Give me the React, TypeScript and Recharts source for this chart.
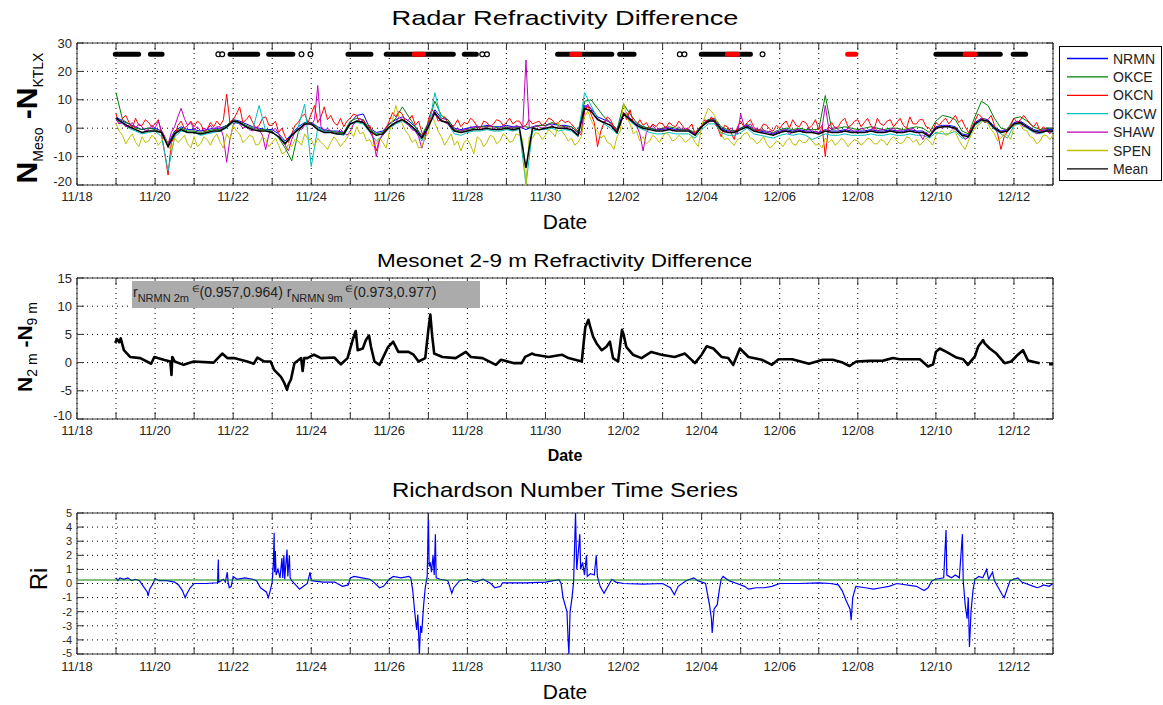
import React from 'react';
import {
  LineChart,
  Line,
  XAxis,
  YAxis,
  CartesianGrid,
  ReferenceArea,
  ReferenceLine,
  Legend,
} from 'recharts';

// ---------------------------------------------------------------------------
// Axis definitions (days since 11/18 00:00)
// ---------------------------------------------------------------------------
const dayTicks = [0, 1, 2, 3, 4, 5, 6, 7, 8, 9, 10, 11, 12, 13, 14, 15, 16, 17, 18, 19, 20, 21, 22, 23, 24, 25];
const dayLabels = [
  '11/18', '', '11/20', '', '11/22', '', '11/24', '', '11/26', '', '11/28', '', '11/30', '',
  '12/02', '', '12/04', '', '12/06', '', '12/08', '', '12/10', '', '12/12', '',
];
const refrTicks = [-20, -10, 0, 10, 20, 30];
const gradTicks = [-10, -5, 0, 5, 10, 15];
const riTicks = [-5, -4, -3, -2, -1, 0, 1, 2, 3, 4, 5];

// ---------------------------------------------------------------------------
// Radar refractivity difference, N_meso - N_KTLX, from 11/19 00:00.
// 4-hourly stations: one row per day (00, 04, 08, 12, 16, 20 h)
// ---------------------------------------------------------------------------
const coarseDays = Array.from({ length: 145 }, (_, i) => 1 + i / 6);
// 2-hourly stations: one row per day (00, 02, ... 22 h)
const fineDays = Array.from({ length: 289 }, (_, i) => 1 + i / 12);

const nrmn = [
  4.0, 2.5, 1.5, 0.5, -0.5, 0.0,
  0.0, -1.0, -5.5, -1.0, 0.5, -0.5,
  -0.5, -1.0, -0.5, 0.0, 0.0, 1.0,
  3.0, 2.5, 1.5, 0.5, 0.0, -0.5,
  -0.5, -2.0, -4.5, -2.0, 0.5, 2.0,
  2.0, 0.5, -0.5, -1.0, -1.0, -1.5,
  2.0, 4.5, 5.0, 0.0, -1.5, -1.0,
  1.5, 3.0, 4.0, 2.5, 0.5, -3.0,
  1.5, 6.5, 3.5, 3.0, 0.0, -0.5,
  0.0, 0.5, 0.5, 1.0, 0.5, 0.5,
  1.0, 0.5, 0.5, -0.5, 0.5, 1.0,
  1.0, 1.5, 1.0, 1.0, 0.5, -1.5,
  8.0, 7.0, 4.0, 3.0, 2.0, -0.5,
  5.5, 3.5, 1.5, 0.5, 0.0, -0.5,
  -0.5, 0.0, -0.5, -0.5, -0.5, -2.0,
  1.0, 3.0, 3.0, 0.0, -1.0, -1.0,
  0.0, 1.0, -0.5, -1.0, -1.5, -2.0,
  -1.0, -0.5, -1.0, -0.5, -1.0, -1.0,
  -1.5, -0.5, -1.0, -1.0, -0.5, -1.0,
  -1.0, -1.0, -0.5, -1.0, -1.0, -0.5,
  -1.0, -1.0, -0.5, -1.0, -1.0, -2.5,
  0.5, 1.0, 1.0, 0.5, -2.0, -2.5,
  2.0, 3.5, 3.0, 0.5, -1.0, -0.5,
  2.0, 2.5, 1.0, -0.5, -1.0, -0.5,
  -0.5,
];

const okce = [
  12.5, 3.0, 1.5, 0.0, -0.5, 0.0,
  -0.5, -1.5, -6.0, -1.5, 0.0, -1.0,
  -1.0, -1.5, -1.0, -0.5, -0.5, 1.0,
  3.0, 2.0, 1.0, 0.0, -0.5, -0.5,
  -1.0, -3.5, -7.0, -11.5, -1.5, 2.0,
  2.0, 0.0, -1.0, -1.0, -1.5, -1.5,
  2.5, 3.5, 3.0, -0.5, -2.0, -1.5,
  1.5, 3.5, 7.5, 4.0, 0.5, -2.5,
  2.0, 9.5, 4.5, 3.0, -0.5, -1.0,
  -0.5, 0.0, 0.5, 0.5, 0.5, 0.0,
  0.5, 0.0, 0.5, 0.5, 0.0, 1.0,
  1.0, 2.0, 1.0, 0.5, 0.5, -1.5,
  9.5, 10.0, 7.0, 4.0, 2.0, -0.5,
  8.5, 5.0, 2.0, 0.5, 0.0, -0.5,
  0.0, 0.5, 0.0, -0.5, -0.5, -1.5,
  1.0, 3.0, 3.5, 0.5, -0.5, -1.0,
  0.0, 1.5, -0.5, -0.5, -1.0, -1.5,
  -0.5, 0.0, -0.5, 0.0, -0.5, -0.5,
  -0.5, 11.5, -0.5, 0.0, 0.5, 0.0,
  -0.5, 0.0, 0.5, 0.0, -0.5, 0.0,
  0.0, -0.5, 0.0, 0.5, 0.0, -1.5,
  2.5, 4.5, 4.0, 3.0, -1.0, -2.0,
  4.0, 9.5, 8.0, 3.5, 0.0, -0.5,
  3.5, 4.0, 2.5, 0.5, -0.5, 0.0,
  0.0,
];

const okcn = [
  5.0, 1.5, 3.5, 4.5, 2.0, 0.0, 3.5, 1.0, 1.0, 3.0, 2.0, 0.5,
  1.5, 3.0, -2.0, -9.0, -16.5, -5.0, -3.0, 1.0, 2.5, 0.0, 1.0, 2.5,
  0.5, 2.5, 1.5, -1.0, -0.5, 2.0, 0.5, 2.5, 1.0, 3.0, 12.0, 2.0,
  3.0, 5.0, 7.5, 2.0, 3.0, 4.5, 2.0, 0.0, 1.0, 3.5, 4.0, 1.0,
  1.0, 2.5, -1.5, 0.0, -3.0, -5.0, -2.0, 1.0, 2.0, 4.0, 5.0, 2.0,
  5.0, 8.0, 2.0, 4.0, 7.5, 3.0, 4.5, 2.0, 1.0, 3.5, 0.5, 2.5,
  3.5, 5.0, 4.5, 2.0, 3.0, 0.5, 1.0, -3.0, -8.0, -4.0, -2.0, 0.0,
  2.5, 5.5, 4.0, 6.0, 5.0, 2.0, 3.0, 4.5, 1.0, 2.5, -1.5, -4.0,
  3.0, 6.5, 5.5, 2.5, 3.0, 4.0, 2.0, 0.5, 1.0, 3.0, 0.5, 2.0,
  1.5, 3.5, 2.5, 0.5, 0.0, 2.5, 2.0, 0.5, 1.5, 3.0, 2.5, 1.0,
  2.0, 3.5, 1.5, 2.5, 2.5, 0.5, 1.0, 3.0, 1.5, 2.0, 2.5, 1.0,
  2.0, 3.5, 3.0, 1.5, 2.0, 3.0, 2.0, 2.5, 1.5, 0.0, -1.0, -2.5,
  6.0, 8.0, 5.0, 2.0, -6.5, -1.0, 2.0, 4.0, 3.0, 0.5, -1.0, 1.0,
  5.5, 3.0, 6.5, 2.0, 1.0, 3.0, 1.0, 2.0, 0.0, 1.5, 0.5, 2.0,
  1.5, 0.0, 2.0, 1.0, 0.5, 2.5, 1.0, -0.5, 0.0, 1.5, -2.0, -0.5,
  1.0, 3.0, 2.0, 4.0, 2.0, 0.0, -3.0, 1.0, 0.5, -1.5, -4.0, 0.5,
  2.5, 0.5, 2.0, 3.0, 0.5, -1.0, -0.5, 1.5, 1.0, -0.5, -1.0, 1.0,
  0.0, 1.5, 2.5, 0.0, 3.0, 1.0, 0.5, 2.5, 2.0, 0.0, 1.0, 3.0,
  -0.5, 1.0, -10.0, 0.5, 2.0, 0.0, 0.5, 2.5, 3.5, 0.5, 1.0, 2.5,
  3.0, 0.5, 2.0, 3.5, 1.0, -0.5, 3.5, 1.5, 1.0, 2.5, 3.0, 0.5,
  2.0, 3.5, 1.0, 0.0, 4.0, 1.5, 1.5, 3.0, 3.0, 0.5, 0.0, -1.5,
  2.0, 1.0, 2.5, 3.5, 1.5, 3.0, 4.5, 2.0, 3.0, 0.5, -1.5, 0.0,
  2.5, 5.0, 4.0, 2.0, 3.0, 4.5, 1.0, -2.0, -7.5, -3.0, -1.0, 1.0,
  3.5, 2.0, 3.0, 4.5, 3.0, 1.5, 0.5, 2.0, -1.0, 0.5, -0.5, -2.0,
  -0.5,
];

const okcw = [
  3.0, 1.5, 0.0, -1.0, -2.0, -1.5,
  -1.0, -3.0, -15.0, -3.0, -1.0, -1.5,
  -1.5, -2.5, -2.0, -1.5, -1.0, 0.0,
  2.0, 1.5, 0.5, -0.5, 8.0, -1.0,
  -1.5, -3.0, -5.0, -3.0, 0.5, 8.5,
  -13.5, 0.0, -1.0, -1.5, -2.0, -2.5,
  1.5, 2.0, 1.5, -1.5, -4.5, -2.5,
  0.0, 1.5, 2.5, 1.0, -1.0, -4.5,
  0.0, 12.5, 3.0, 1.5, -2.0, -2.5,
  -1.5, -1.0, -1.0, -0.5, -1.0, -1.0,
  -0.5, -1.0, -0.5, -20.0, -1.0, -0.5,
  -0.5, 0.0, -1.0, -0.5, -1.0, -3.0,
  12.5, 8.0, 3.5, 1.5, 0.0, -2.0,
  5.0, 2.5, 0.5, -0.5, -1.5, -2.0,
  -2.0, -1.5, -2.0, -2.0, -2.0, -3.5,
  -0.5, 1.5, 1.5, -1.5, -2.5, -2.5,
  -1.5, 0.0, -2.0, -2.5, -3.0, -3.5,
  -2.5, -2.0, -2.5, -2.0, -2.5, -4.0,
  -3.0, -2.0, -2.5, -2.5, -2.0, -2.5,
  -2.5, -2.5, -2.0, -2.5, -2.5, -2.0,
  -2.5, -2.5, -2.0, -2.5, -2.5, -3.5,
  -1.5, -2.0, -2.0, -1.0, -3.5, -3.5,
  1.0, 2.5, 2.0, -0.5, -2.0, -3.5,
  1.0, 1.5, 0.0, -1.5, -2.0, -1.0,
  -1.5,
];

const shaw = [
  3.0, 1.5, 2.0, 0.5, 1.0, 2.0, 0.0, 1.5, 0.5, -1.0, -0.5, 1.0,
  0.0, 2.5, -1.0, -3.0, -5.5, -1.5, 0.5, 4.0, 7.0, 3.5, 1.0, 2.0,
  -0.5, 0.5, -1.0, 0.0, -0.5, 1.0, -0.5, 0.5, 0.5, -3.0, -12.0, -4.0,
  1.0, 2.5, 1.5, 0.0, 0.5, -0.5, -1.0, 0.5, -0.5, -2.5, -7.5, -2.0,
  -1.0, 0.0, -2.0, -4.5, -6.0, -8.0, -4.0, -1.5, 0.0, -0.5, 1.0, 2.0,
  1.0, 3.0, 15.0, 0.5, -1.0, 0.0, -1.0, -2.0, -1.5, -0.5, -1.5, -2.5,
  -1.0, 1.5, 2.5, 3.5, 2.0, 0.5, -1.0, -3.5, -10.0, -4.0, -2.5, -1.0,
  0.5, 1.5, 2.0, 4.0, 3.0, 2.0, 1.0, -0.5, -1.0, -3.0, -7.0, -3.0,
  1.0, 4.5, 5.0, 3.5, 3.0, 2.0, 1.5, 0.0, -1.0, 0.0, -1.0, -0.5,
  -0.5, 0.5, 0.0, 1.0, -0.5, 0.0, 0.5, 1.0, 0.0, -0.5, 0.0, 1.0,
  0.0, 0.5, 0.0, 1.0, 0.5, 0.0, 24.0, 0.5, 0.0, 1.0, 0.5, 0.0,
  0.5, 1.5, 1.0, 0.0, 0.5, 1.0, 0.0, 0.5, -0.5, -1.0, -2.5, -1.0,
  7.0, 8.5, 6.5, 4.5, 3.5, 2.5, 2.0, 3.0, 1.5, 0.0, -1.0, 1.5,
  4.5, 5.5, 3.0, 2.0, 1.0, -2.0, -8.0, -1.5, 0.0, 1.0, -0.5, 0.0,
  -0.5, 0.5, 0.0, -1.0, -0.5, 0.5, -0.5, 0.0, -0.5, -1.5, -2.0, -0.5,
  0.5, 1.5, 2.0, 3.0, 2.0, 0.5, -0.5, -1.5, -1.0, 0.0, -1.0, -2.0,
  5.0, 1.0, 0.5, 1.5, -0.5, 0.0, -1.0, -0.5, -1.5, -1.0, -2.0, -1.0,
  -1.5, -0.5, -1.0, -2.0, -1.5, -0.5, -0.5, -1.5, -1.0, 0.0, -1.5, -1.0,
  -1.5, 0.0, 8.0, 0.5, -0.5, 0.5, -0.5, -1.5, -1.0, 0.0, -0.5, -1.5,
  -1.0, 0.0, -0.5, -1.5, -0.5, 0.5, -1.0, -0.5, -0.5, -1.5, -0.5, 0.0,
  -1.0, -0.5, -1.5, -0.5, -0.5, 0.0, -1.0, -2.0, -4.0, -1.5, -2.5, -1.0,
  -0.5, 0.5, 0.0, 1.0, 0.5, 0.0, -0.5, -1.5, -2.5, -4.0, -3.0, -1.0,
  1.5, 2.5, 3.5, 2.0, 2.5, 1.0, 0.0, -1.0, -1.5, -0.5, -1.0, 0.5,
  1.5, 2.5, 1.5, 0.5, 0.5, -0.5, -1.0, -2.0, -1.5, -0.5, -1.0, -1.5,
  -1.0,
];

const spen = [
  1.5, -1.0, -2.5, -5.5, -3.5, -2.0, -5.0, -6.5, -3.0, -5.0, -4.5, -2.5,
  -3.5, -6.0, -4.5, -3.0, -6.0, -8.0, -3.5, -5.0, -4.0, -2.5, -5.5, -7.0,
  -3.0, -6.5, -5.5, -3.0, -4.0, -6.0, -3.5, -2.0, -5.0, -7.0, -2.0, -4.0,
  1.0, -1.0, -2.0, -5.0, -4.0, -2.5, -3.0, -6.0, -5.5, -3.0, -4.0, -6.5,
  -5.0, -3.5, -6.0, -9.0, -8.5, -5.5, -6.5, -4.0, -4.5, -6.0, -2.0, -4.0,
  -4.0, -6.5, -3.5, -5.0, -6.0, -7.5, -5.0, -3.0, -4.5, -6.5, -5.0, -3.5,
  -1.0, -3.0, 0.5, -2.0, -1.5, -4.5, -4.0, -6.5, -5.5, -3.5, -5.0, -7.0,
  -1.5, 3.0, 8.0, 4.0, 1.5, -1.0, -2.5, -5.0, -4.0, -7.0, -6.5, -3.0,
  -2.0, 4.5, 2.0, -1.0, -3.0, -6.0, -4.0, -2.0, -6.0, -4.5, -8.0, -5.0,
  -4.0, -6.0, -9.0, -3.0, -4.0, -6.5, -5.0, -2.5, -3.0, -5.5, -4.5, -2.0,
  -3.0, -5.0, -4.5, -2.0, -2.5, -4.0, -20.0, -3.0, -3.5, -1.5, -2.0, -4.0,
  -2.5, -0.5, -1.5, -3.0, 2.0, -1.0, -2.5, -4.5, -3.5, -6.0, -5.0, -3.0,
  4.0, 6.0, 3.0, 0.5, -1.0, -3.5, -2.5, -5.0, -5.5, -7.5, -3.0, -1.0,
  9.0, 4.0, 1.5, -2.0, -1.0, -4.5, -3.0, -5.5, -4.5, -2.5, -3.5, -5.0,
  -3.0, -1.5, -2.5, -4.5, -4.0, -2.5, -3.5, -5.0, -4.0, -3.0, -5.0, -6.5,
  1.0, 4.0, 7.0, 6.0, 4.5, 1.0, -2.0, -4.0, -3.5, -5.0, -6.0, -4.0,
  -3.5, -2.0, -1.5, -3.5, -4.0, -5.5, -4.5, -3.0, -5.5, -7.0, -6.0, -4.5,
  -5.0, -6.5, -4.5, -3.5, -5.5, -6.0, -4.0, -5.0, -5.0, -3.5, -4.5, -6.0,
  -5.5, -7.0, -3.5, -5.0, -4.0, -6.0, -5.0, -3.5, -4.5, -6.5, -5.0, -4.0,
  -4.5, -6.0, -5.0, -3.5, -4.0, -5.5, -5.5, -4.0, -4.5, -6.0, -4.0, -3.0,
  -4.5, -5.5, -5.0, -3.0, -3.5, -5.0, -4.0, -6.0, -5.0, -3.5, -4.5, -6.0,
  -2.5, -1.5, -1.0, -2.5, -2.0, -0.5, -1.5, -4.0, -6.0, -7.5, -4.5, -2.0,
  0.0, 1.0, 2.0, 3.0, 1.5, -0.5, -2.0, -4.5, -3.5, -2.0, -2.5, -4.0,
  0.5, 2.0, 1.0, -0.5, -1.0, -3.0, -3.5, -5.5, -4.5, -2.5, -2.5, -4.0,
  -2.5,
];

const stationMean = [
  3.5, 2.0, 0.5, -0.5, -1.5, -1.0,
  -1.0, -1.5, -6.5, -2.0, -0.5, -1.5,
  -1.5, -2.0, -1.5, -1.0, -1.0, 0.5,
  2.5, 2.0, 0.5, -0.5, -1.0, -1.0,
  -1.5, -3.0, -5.5, -2.5, -0.5, 1.5,
  1.5, -0.5, -1.5, -1.5, -2.0, -2.0,
  1.5, 2.5, 2.0, -1.0, -2.5, -2.0,
  0.5, 2.0, 3.0, 1.5, -0.5, -3.5,
  0.5, 5.5, 2.5, 2.0, -1.0, -1.5,
  -1.0, -0.5, -0.5, 0.0, -0.5, -0.5,
  0.0, -0.5, 0.0, -14.0, 0.0, -0.5,
  0.0, 0.5, 0.0, 0.0, -0.5, -2.5,
  7.0, 6.0, 3.0, 2.0, 1.0, -1.5,
  5.0, 3.0, 1.0, 0.0, -0.5, -1.0,
  -1.0, -0.5, -1.0, -1.0, -1.0, -2.5,
  0.5, 2.5, 2.5, -0.5, -1.5, -1.5,
  -0.5, 0.5, -1.0, -1.5, -2.0, -2.5,
  -1.5, -1.0, -1.5, -1.0, -1.5, -1.5,
  -2.0, -1.0, -1.5, -1.5, -1.0, -1.5,
  -1.5, -1.5, -1.0, -1.5, -1.5, -1.0,
  -1.5, -1.5, -1.0, -1.5, -1.5, -3.0,
  0.0, 0.5, 0.5, 0.0, -2.5, -3.0,
  1.5, 3.0, 2.5, 0.0, -1.5, -1.0,
  1.5, 2.0, 0.5, -1.0, -1.5, -1.0,
  -1.0,
];

// Event flags plotted along the top of the refractivity panel
const flagLevel = 26;
const eventStarts = [0.98, 1.88, 3.92, 4.91, 6.94, 7.92, 9.92, 12.31, 13.9, 15.99, 22.0, 23.98];
const eventEnds = [1.58, 2.18, 4.63, 5.53, 7.53, 9.64, 10.23, 13.7, 14.27, 17.25, 23.65, 24.3];
const alertStarts = [8.64, 12.67, 16.66, 19.74, 22.75];
const alertEnds = [8.87, 12.88, 16.92, 19.95, 23.0];
const isolatedEvents = [3.62, 3.72, 5.75, 5.98, 10.38, 10.5, 15.44, 15.56, 17.56];

// ---------------------------------------------------------------------------
// Mesonet 2 m - 9 m refractivity difference
// ---------------------------------------------------------------------------
const gradDays = [
  0.98, 1.02, 1.08, 1.12, 1.2, 1.36, 1.62, 1.79, 1.9, 1.98, 2.22, 2.39, 2.42, 2.44, 2.5, 2.73, 2.99,
  3.5, 3.72, 3.85, 4.02, 4.36, 4.53, 4.62, 4.79, 4.96, 5.05, 5.22, 5.31, 5.38, 5.42, 5.48, 5.57,
  5.74, 5.78, 5.82, 5.9, 6.07, 6.25, 6.59, 6.76, 6.93, 7.06, 7.14, 7.19, 7.32, 7.4, 7.48, 7.53,
  7.62, 7.75, 7.97, 8.1, 8.23, 8.49, 8.62, 8.75, 8.92, 9.0, 9.05, 9.1, 9.15, 9.36, 9.7, 9.96,
  10.09, 10.39, 10.73, 10.86, 11.2, 11.39, 11.48, 11.65, 11.73, 12.08, 12.42, 12.59, 12.93, 13.02,
  13.1, 13.14, 13.22, 13.31, 13.44, 13.56, 13.65, 13.73, 13.86, 13.96, 14.0, 14.07, 14.24, 14.46,
  14.71, 14.97, 15.31, 15.57, 15.83, 16.0, 16.13, 16.3, 16.51, 16.68, 16.81, 16.98, 17.2, 17.54,
  17.8, 17.97, 18.32, 18.75, 19.1, 19.36, 19.61, 19.79, 19.96, 20.3, 20.65, 20.9, 21.07, 21.59,
  21.8, 21.93, 22.0, 22.1, 22.27, 22.53, 22.7, 22.82, 23.0, 23.08, 23.21, 23.25, 23.38, 23.55,
  23.76, 23.93, 24.1, 24.23, 24.36, 24.66, 24.7, 24.9, 25.0,
];
const gradValues = [
  3.5, 4.2, 3.6, 4.3, 2.2, 1.0, 0.8, 0.2, -0.2, 1.0, 0.5, 0.2, -2.2, 1.0, 0.2, -0.4, 0.2,
  0.0, 1.6, 0.8, 0.8, 0.2, -0.2, 0.9, 0.2, 0.2, -1.3, -2.5, -3.6, -4.8, -3.8, -3.0, -0.1,
  0.8, -1.5, 0.8, 0.8, 1.4, 0.8, 0.9, -0.3, 0.8, 4.0, 5.6, 2.2, 2.5, 4.0, 4.8, 2.8,
  0.2, -0.4, 2.8, 3.7, 1.9, 1.9, 1.4, 0.2, 0.8, 5.8, 8.5, 4.6, 1.6, 1.0, 0.8, 1.9,
  1.0, 0.8, -0.4, 0.5, -0.1, -0.1, 1.0, 1.6, 1.4, 1.0, 1.4, 0.8, 0.2, 6.3,
  7.6, 6.5, 4.6, 3.4, 2.2, 2.8, 3.7, 0.8, 0.2, 5.8, 5.0, 2.8, 1.4, 0.8,
  1.9, 1.4, 1.0, 1.6, -0.1, 1.4, 2.9, 2.5, 1.0, 0.8, -0.4, 2.5, 1.0, 0.5,
  -0.4, 0.6, 0.6, -0.2, 0.5, 0.5, 0.0, -0.6, 0.2, 0.3, 0.35, 0.8, 0.6, 0.6,
  -0.7, -0.3, 1.9, 2.5, 1.9, 0.9, 0.6, -0.4, 1.1, 2.8, 4.0, 3.4, 2.5, 1.6,
  -0.1, 0.2, 1.4, 2.2, 0.35, -0.1, null, -0.3, -0.3,
];

// ---------------------------------------------------------------------------
// Richardson number
// ---------------------------------------------------------------------------
const riDays = [
  1.0, 1.05, 1.1, 1.2, 1.3, 1.4, 1.5, 1.6, 1.7, 1.8, 1.82, 1.86, 1.95, 2.0, 2.1, 2.3, 2.5, 2.6, 2.7,
  2.77, 2.8, 2.9, 3.0, 3.3, 3.6, 3.62, 3.63, 3.75, 3.8, 3.85, 3.87, 3.9, 3.95, 4.0, 4.1, 4.3, 4.5,
  4.6, 4.7, 4.85, 4.9, 4.95, 5.0, 5.03, 5.05, 5.06, 5.08, 5.1, 5.15, 5.2, 5.25, 5.27, 5.3, 5.32,
  5.38, 5.4, 5.44, 5.46, 5.5, 5.6, 5.7, 5.8, 5.9, 5.97, 6.0, 6.3, 6.6, 6.8, 6.95, 7.0, 7.1, 7.3,
  7.5, 7.6, 7.75, 7.85, 8.0, 8.1, 8.3, 8.5, 8.55, 8.6, 8.65, 8.7, 8.73, 8.77, 8.8, 8.83, 8.88,
  8.92, 8.97, 9.0, 9.02, 9.05, 9.08, 9.12, 9.15, 9.18, 9.2, 9.3, 9.5, 9.6, 9.65, 9.8, 10.0, 10.2,
  10.4, 10.6, 10.7, 10.85, 10.9, 11.5, 12.0, 12.2, 12.35, 12.4, 12.45, 12.5, 12.55, 12.58, 12.6,
  12.63, 12.68, 12.72, 12.77, 12.8, 12.85, 12.88, 12.9, 12.95, 13.0, 13.05, 13.07, 13.15, 13.25,
  13.3, 13.33, 13.4, 13.5, 13.6, 13.7, 13.8, 14.0, 14.5, 15.0, 15.2, 15.3, 15.4, 15.6, 15.8, 15.9,
  16.1, 16.2, 16.25, 16.27, 16.32, 16.4, 16.45, 16.5, 16.55, 16.7, 16.9, 17.1, 17.2, 17.4, 17.6,
  17.8, 18.0, 18.5, 19.0, 19.3, 19.5, 19.6, 19.7, 19.8, 19.83, 19.87, 19.95, 20.2, 20.4, 20.6,
  20.8, 21.0, 21.5, 21.7, 21.8, 21.9, 22.0, 22.2, 22.26, 22.28, 22.4, 22.5, 22.6, 22.68, 22.7,
  22.75, 22.8, 22.83, 22.86, 22.9, 22.95, 23.0, 23.1, 23.2, 23.3, 23.35, 23.45, 23.5, 23.6, 23.7,
  23.75, 23.8, 23.9, 24.0, 24.1, 24.2, 24.3, 24.5, 24.6, 24.7, 24.75, 24.9, 25.0,
];
const riValues = [
  0.4, 0.2, 0.4, 0.3, 0.4, 0.2, 0.3, 0.2, -0.2, -0.6, -0.9, -0.4, 0.0, 0.35, 0.2, 0.2, 0.1, -0.1, -0.5,
  -1.0, -0.8, -0.3, 0.0, 0.0, 0.05, 1.7, 0.1, 0.3, 0.1, 0.8, 0.1, -0.3, -0.2, 0.5, 0.3, 0.4, 0.3,
  0.2, -0.3, -0.6, -1.0, -0.5, 0.1, 1.5, 3.6, 0.8, 2.3, 0.6, 1.0, 0.4, 1.8, 0.4, 2.0, 0.3,
  2.4, 0.5, 2.0, 0.4, 0.2, -0.1, -0.4, -0.2, 0.0, 0.8, 0.2, 0.1, 0.1, -0.2, -0.1, 0.4, 0.5, 0.4,
  0.3, 0.1, -0.3, -0.2, 0.3, 0.5, 0.4, 0.5, 0.4, -0.5, -2.0, -3.3, -2.2, -5.0, -3.0, -3.5, -1.5,
  -0.3, 0.5, 5.0, 1.2, 1.5, 0.8, 2.0, 0.6, 3.5, 0.4, 0.3, 0.2, -0.7, -0.3, 0.2, 0.3, 0.1,
  0.3, 0.0, -0.3, -0.2, 0.05, 0.05, 0.1, 0.2, 0.25, 0.0, -1.0, -1.5, -2.0, -4.0, -5.0,
  -2.0, -1.0, 0.1, 5.0, 1.0, 2.5, 3.5, 1.0, 1.5, 0.6, 2.0, 0.5, 0.7, 0.6,
  2.0, 0.5, -0.2, -0.7, -0.2, 0.3, 0.1, 0.0, -0.05, 0.0, -0.3, -0.8, -0.2, 0.2, 0.4, 0.2,
  0.0, -1.5, -2.5, -3.5, -1.8, -1.5, -0.5, 0.3, 0.5, 0.2, 0.0, -0.2, -0.4, -0.3, -0.3,
  -0.2, 0.0, 0.0, 0.05, 0.0, -0.1, -0.5, -1.2, -1.8, -2.6, -1.0, -0.2, -0.3, -0.4, -0.3,
  -0.2, 0.0, -0.2, -0.5, -0.3, 0.2, 0.3, 0.4, 3.8, 0.6, 0.4, 0.6, 0.4, 3.5, 0.2,
  -1.5, -2.5, -1.0, -4.5, -2.0, -0.5, 0.3, 0.5, 0.4, 1.0, 0.3, 0.8, 0.2, -0.3, -0.8,
  -1.0, -0.6, 0.2, 0.3, 0.4, 0.1, 0.0, -0.2, -0.3, -0.2, -0.1, -0.2, 0.0,
];
const riCritical = 0.25;

// ---------------------------------------------------------------------------
// Tables for the charts
// ---------------------------------------------------------------------------
const coarseRows = coarseDays.map((t, i) => ({
  t,
  NRMN: nrmn[i],
  OKCE: okce[i],
  OKCW: okcw[i],
  Mean: stationMean[i],
}));
const fineRows = fineDays.map((t, i) => ({
  t,
  OKCN: okcn[i],
  SHAW: shaw[i],
  SPEN: spen[i],
}));

const intervalRows = (starts: number[], ends: number[]) =>
  starts.flatMap((s, i) => [
    { t: s, v: flagLevel },
    { t: ends[i], v: flagLevel },
    { t: ends[i] + 0.001, v: null },
  ]);
const eventRows = intervalRows(eventStarts, eventEnds);
const alertRows = intervalRows(alertStarts, alertEnds);
const isolatedRows = isolatedEvents.map((t) => ({ t, v: flagLevel }));

const gradRows = gradDays.map((t, i) => ({ t, v: gradValues[i] }));
const riRows = riDays.map((t, i) => ({ t, v: riValues[i] }));

// ---------------------------------------------------------------------------
// Styling
// ---------------------------------------------------------------------------
const FONT = '"Liberation Sans", Arial, Helvetica, sans-serif';
const AXIS = '#333333';
const TICK_TEXT = '#262626';
const TICK_LEN = 7;
const PLOT_LEFT = 77;
const PLOT_RIGHT = 1053;
const WIDTH = 1163;

const stations = [
  { key: 'NRMN', color: '#0000ff', width: 1, fine: false },
  { key: 'OKCE', color: '#008000', width: 1, fine: false },
  { key: 'OKCN', color: '#ff0000', width: 1, fine: true },
  { key: 'OKCW', color: '#00bfbf', width: 1, fine: false },
  { key: 'SHAW', color: '#bf00bf', width: 1, fine: true },
  { key: 'SPEN', color: '#bfbf00', width: 1, fine: true },
  { key: 'Mean', color: '#000000', width: 1.5, fine: false },
];
const stationOrder = stations.map((s) => s.key);

// x ticks: labels below, short inward marks at both the bottom and top edges
const makeXTick = (plotTop: number, plotBottom: number, gap: number) => (props: any) => {
  const { x, payload } = props;
  const label = dayLabels[Math.round(payload.value)] || '';
  return (
    <g>
      <line x1={x} x2={x} y1={plotBottom} y2={plotBottom - TICK_LEN} stroke={AXIS} />
      <line x1={x} x2={x} y1={plotTop} y2={plotTop + TICK_LEN} stroke={AXIS} />
      {label ? (
        <text x={x} y={plotBottom + gap} dy="0.71em" textAnchor="middle" fontSize={13} fontFamily={FONT} fill={TICK_TEXT}>
          {label}
        </text>
      ) : null}
    </g>
  );
};

// y ticks: labels at left, inward marks on both left and right edges;
// the lowest label sits a little higher so it clears the first date label
const makeYTick = (lowest: number, lift: number, fontSize: number) => (props: any) => {
  const { y, payload } = props;
  const dyShift = payload.value === lowest ? -lift : 0;
  return (
    <g>
      <line x1={PLOT_LEFT} x2={PLOT_LEFT + TICK_LEN} y1={y} y2={y} stroke={AXIS} />
      <line x1={PLOT_RIGHT} x2={PLOT_RIGHT - TICK_LEN} y1={y} y2={y} stroke={AXIS} />
      <text x={PLOT_LEFT - 5} y={y + dyShift} dy="0.35em" textAnchor="end" fontSize={fontSize} fontFamily={FONT} fill={TICK_TEXT}>
        {payload.value}
      </text>
    </g>
  );
};

const LegendBox = (props: any) => {
  const items = (props.payload || [])
    .filter((p: any) => p.type !== 'none' && stationOrder.includes(p.value))
    .sort((a: any, b: any) => stationOrder.indexOf(a.value) - stationOrder.indexOf(b.value));
  return (
    <svg width={103} height={135} style={{ display: 'block' }}>
      <rect x={0.5} y={0.5} width={102} height={134} fill="#ffffff" stroke="#000000" />
      {items.map((p: any, i: number) => {
        const cy = 12.5 + i * 18.4;
        return (
          <g key={p.value}>
            <line x1={8} x2={49} y1={cy} y2={cy} stroke={p.color} strokeWidth={1.3} />
            <text x={54} y={cy} dy="0.36em" fontSize={14} fontFamily={FONT} fill="#222">
              {p.value}
            </text>
          </g>
        );
      })}
    </svg>
  );
};

const grid = <CartesianGrid stroke="#000" strokeDasharray="1 4" strokeWidth={1} />;

const xAxisFor = (plotTop: number, plotBottom: number, height: number, gap: number) => (
  <XAxis
    type="number"
    dataKey="t"
    domain={[0, 25]}
    ticks={dayTicks}
    interval={0}
    allowDataOverflow
    axisLine={false}
    tickLine={false}
    tickSize={0}
    height={height}
    tick={makeXTick(plotTop, plotBottom, gap)}
  />
);

const yAxisFor = (domain: [number, number], ticks: number[], lift: number, fontSize: number) => (
  <YAxis
    type="number"
    domain={domain}
    ticks={ticks}
    interval={0}
    allowDataOverflow
    axisLine={false}
    tickLine={false}
    tickSize={0}
    width={PLOT_LEFT}
    tick={makeYTick(domain[0], lift, fontSize)}
  />
);

const frame = (x1: number, x2: number, y1: number, y2: number) => (
  <ReferenceArea x1={x1} x2={x2} y1={y1} y2={y2} fill="none" fillOpacity={0} stroke={AXIS} strokeWidth={1} ifOverflow="visible" />
);

// ---------------------------------------------------------------------------
// Titles, axis labels and annotation
// ---------------------------------------------------------------------------
const Labels = () => (
  <svg
    width={WIDTH}
    height={705}
    style={{ position: 'absolute', left: 0, top: 0, pointerEvents: 'none' }}
    fontFamily={FONT}
  >
    <defs>
      <clipPath id="mesonet-title-clip">
        <rect x={0} y={240} width={751} height={40} />
      </clipPath>
    </defs>

    {/* panel titles */}
    <text x={565} y={25} textAnchor="middle" fontSize={21} fill="#000" textLength={347} lengthAdjust="spacingAndGlyphs">
      Radar Refractivity Difference
    </text>
    <g clipPath="url(#mesonet-title-clip)">
      <text x={565} y={267} textAnchor="middle" fontSize={18} fill="#000" textLength={376} lengthAdjust="spacingAndGlyphs">
        Mesonet 2-9 m Refractivity Difference
      </text>
    </g>
    <text x={565} y={497} textAnchor="middle" fontSize={21} fill="#000" textLength={346} lengthAdjust="spacingAndGlyphs">
      Richardson Number Time Series
    </text>

    {/* x labels */}
    <text x={565} y={229} textAnchor="middle" fontSize={21} fill="#000">Date</text>
    <text x={565} y={461} textAnchor="middle" fontSize={16} fontWeight="bold" fill="#000">Date</text>
    <text x={565} y={699} textAnchor="middle" fontSize={21} fill="#000">Date</text>

    {/* y labels */}
    <text transform="translate(37,118) rotate(-90)" textAnchor="middle" fill="#000">
      <tspan fontSize={30} fontWeight="bold">N</tspan>
      <tspan fontSize={14} dy={6}>Meso</tspan>
      <tspan fontSize={30} fontWeight="bold" dy={-6}> -N</tspan>
      <tspan fontSize={14} dy={6}>KTLX</tspan>
    </text>
    <text transform="translate(32,347) rotate(-90)" textAnchor="middle" fill="#000">
      <tspan fontSize={21} fontWeight="bold">N</tspan>
      <tspan fontSize={14} dy={5}>2 m</tspan>
      <tspan fontSize={21} fontWeight="bold" dy={-5}> -N</tspan>
      <tspan fontSize={14} dy={5}>9 m</tspan>
    </text>
    <text transform="translate(47,579) rotate(-90)" textAnchor="middle" fontSize={24} fill="#000">Ri</text>

    {/* correlation annotation */}
    <rect x={132} y={281} width={348} height={27} fill="#ababab" />
    <text x={133} y={297} fill="#222" fontSize={14}>
      <tspan>r</tspan>
      <tspan fontSize={11} dy={5}>NRMN 2m</tspan>
      <tspan fontSize={9} dy={-10}> ∈</tspan>
      <tspan fontSize={14} dy={5}>(0.957,0.964) r</tspan>
      <tspan fontSize={11} dy={5}>NRMN 9m</tspan>
      <tspan fontSize={9} dy={-10}> ∈</tspan>
      <tspan fontSize={14} dy={5}>(0.973,0.977)</tspan>
    </text>
  </svg>
);

// ---------------------------------------------------------------------------
// App
// ---------------------------------------------------------------------------
export default function App() {
  return (
    <div style={{ position: 'absolute', left: 0, top: 0, width: WIDTH, height: 705, background: '#fff', overflow: 'hidden' }}>
      {/* Radar refractivity difference */}
      <div style={{ position: 'absolute', left: 0, top: 0 }}>
        <LineChart width={WIDTH} height={240} data={coarseRows} margin={{ top: 43, right: WIDTH - PLOT_RIGHT, bottom: 25, left: 0 }}>
          {grid}
          {xAxisFor(43, 185, 30, 7)}
          {yAxisFor([-20, 30], refrTicks, 4, 13)}
          {stations.map((s) => (
            <Line
              key={s.key}
              data={s.fine ? fineRows : coarseRows}
              type="linear"
              dataKey={s.key}
              name={s.key}
              stroke={s.color}
              strokeWidth={s.width}
              dot={false}
              activeDot={false}
              isAnimationActive={false}
            />
          ))}
          <Line data={eventRows} dataKey="v" stroke="#000" strokeWidth={5} strokeLinecap="round" dot={false} activeDot={false} legendType="none" isAnimationActive={false} />
          <Line data={alertRows} dataKey="v" stroke="#ff0000" strokeWidth={5} strokeLinecap="round" dot={false} activeDot={false} legendType="none" isAnimationActive={false} />
          <Line
            data={isolatedRows}
            dataKey="v"
            stroke="none"
            dot={{ r: 2.4, fill: '#fff', stroke: '#000', strokeWidth: 1.2 }}
            activeDot={false}
            legendType="none"
            isAnimationActive={false}
          />
          {frame(0, 25, -20, 30)}
          <Legend
            layout="vertical"
            align="center"
            verticalAlign="middle"
            wrapperStyle={{ left: 1059, top: 46, width: 103, height: 135 }}
            content={LegendBox}
          />
        </LineChart>
      </div>

      {/* Mesonet 2-9 m difference */}
      <div style={{ position: 'absolute', left: 0, top: 240 }}>
        <LineChart width={WIDTH} height={230} data={gradRows} margin={{ top: 38, right: WIDTH - PLOT_RIGHT, bottom: 26, left: 0 }}>
          {grid}
          {xAxisFor(38, 179, 25, 7)}
          {yAxisFor([-10, 15], gradTicks, 4, 13)}
          <Line type="linear" dataKey="v" stroke="#000" strokeWidth={2.6} strokeLinejoin="round" dot={false} activeDot={false} isAnimationActive={false} />
          {frame(0, 25, -10, 15)}
        </LineChart>
      </div>

      {/* Richardson number */}
      <div style={{ position: 'absolute', left: 0, top: 470 }}>
        <LineChart width={WIDTH} height={235} data={riRows} margin={{ top: 43, right: WIDTH - PLOT_RIGHT, bottom: 26, left: 0 }}>
          {grid}
          {xAxisFor(43, 184, 25, 8)}
          {yAxisFor([-5, 5], riTicks, 1.2, 11)}
          <Line type="linear" dataKey="v" stroke="#0000ff" strokeWidth={1.2} dot={false} activeDot={false} isAnimationActive={false} />
          <ReferenceLine y={riCritical} stroke="#008000" strokeWidth={1.2} />
          {frame(0, 25, -5, 5)}
        </LineChart>
      </div>

      <Labels />
    </div>
  );
}
